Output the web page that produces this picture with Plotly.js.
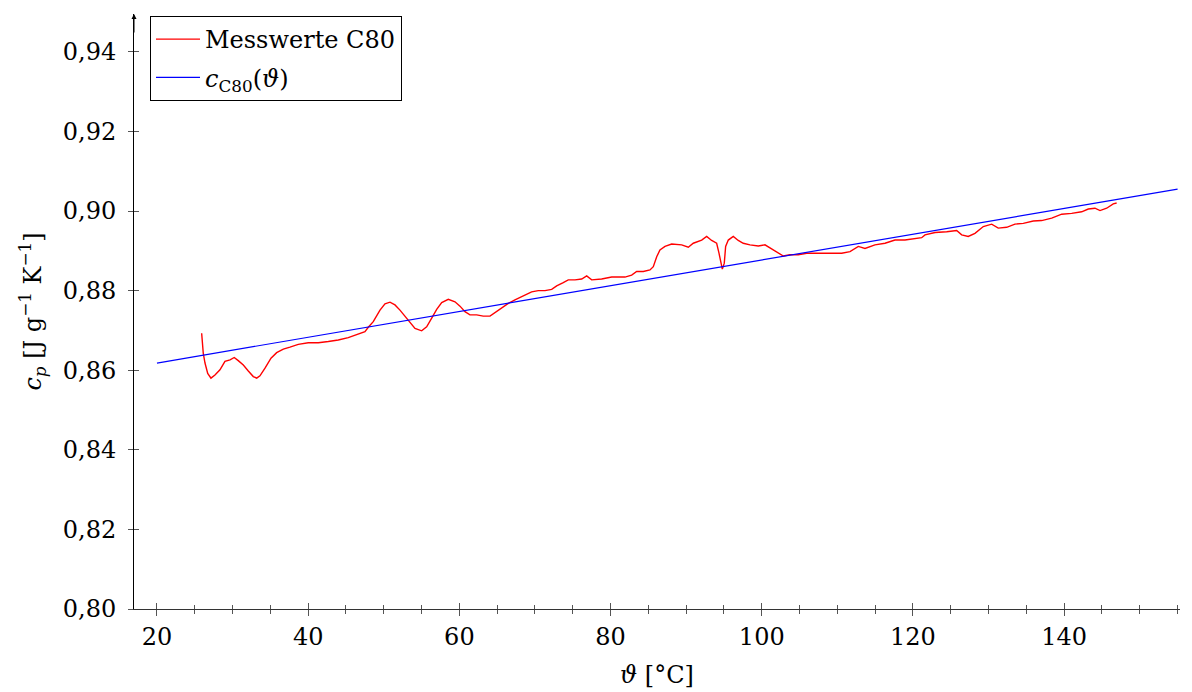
<!DOCTYPE html>
<html>
<head>
<meta charset="utf-8">
<script src="https://cdn.plot.ly/plotly-3.0.1.min.js"></script>
<style>
  html, body { margin: 0; padding: 0; background: #fff; }
  #chart { width: 1192px; height: 692px; }
</style>
</head>
<body>
<div id="chart"></div>
<script>
// Measured specific heat of the C80 sample, temperature in °C
const tempC80 = [
  25.91, 26.12, 26.35, 26.71, 27.14, 27.67, 28.33, 28.99, 29.66, 30.22,
  30.75, 31.42, 32.08, 32.74, 33.19, 33.62, 34.29, 35.08, 35.83, 36.71,
  37.59, 38.69, 40.01, 41.34, 42.66, 43.98, 45.30, 46.63, 47.51, 47.95,
  48.61, 49.50, 50.16, 50.82, 51.48, 52.14, 52.80, 53.47, 54.13, 55.01,
  55.67, 56.34, 57.00, 57.66, 58.53, 59.42, 60.08, 60.74, 61.40, 62.29,
  63.16, 64.05, 64.71, 65.60, 66.47, 67.35, 68.45, 69.56, 70.44, 71.32,
  72.21, 72.87, 73.74, 74.40, 75.29, 76.18, 76.84, 77.50, 78.82, 80.15,
  81.02, 81.90, 82.79, 83.45, 84.33, 85.21, 85.65, 86.10, 86.53, 87.20,
  88.08, 89.40, 90.28, 90.94, 92.05, 92.71, 93.37, 94.03, 94.34, 94.56,
  94.78, 95.04, 95.22, 95.57, 96.23, 96.89, 97.55, 98.44, 99.54, 100.42,
  101.31, 102.18, 102.85, 103.73, 104.83, 105.94, 107.04, 108.14, 109.25, 110.57,
  111.67, 112.77, 113.65, 114.97, 116.30, 117.62, 118.94, 120.26, 121.15, 121.59,
  122.92, 124.46, 125.78, 126.44, 127.31, 128.20, 129.30, 130.41, 131.28, 132.39,
  133.49, 134.59, 135.91, 137.02, 138.35, 139.67, 140.99, 142.31, 143.19, 144.07,
  144.74, 145.62, 146.49, 146.94
];
const cpC80 = [
  0.8693, 0.8643, 0.8618, 0.8592, 0.8580, 0.8588, 0.8601, 0.8622, 0.8626, 0.8632,
  0.8624, 0.8613, 0.8598, 0.8584, 0.8580, 0.8586, 0.8605, 0.8630, 0.8644, 0.8653,
  0.8658, 0.8665, 0.8669, 0.8669, 0.8672, 0.8676, 0.8682, 0.8690, 0.8697, 0.8708,
  0.8722, 0.8751, 0.8767, 0.8771, 0.8764, 0.8751, 0.8736, 0.8718, 0.8705, 0.8699,
  0.8709, 0.8731, 0.8753, 0.8770, 0.8778, 0.8772, 0.8761, 0.8747, 0.8739, 0.8739,
  0.8736, 0.8736, 0.8745, 0.8757, 0.8768, 0.8777, 0.8787, 0.8797, 0.8800, 0.8800,
  0.8803, 0.8812, 0.8820, 0.8827, 0.8827, 0.8829, 0.8837, 0.8827, 0.8829, 0.8834,
  0.8834, 0.8834, 0.8839, 0.8848, 0.8848, 0.8852, 0.8860, 0.8885, 0.8902, 0.8911,
  0.8917, 0.8915, 0.8909, 0.8919, 0.8927, 0.8936, 0.8926, 0.8919, 0.8894, 0.8869,
  0.8854, 0.8869, 0.8911, 0.8927, 0.8936, 0.8926, 0.8919, 0.8915, 0.8912, 0.8915,
  0.8904, 0.8895, 0.8887, 0.8890, 0.8890, 0.8894, 0.8894, 0.8895, 0.8895, 0.8894,
  0.8898, 0.8911, 0.8906, 0.8915, 0.8919, 0.8927, 0.8927, 0.8930, 0.8933, 0.8940,
  0.8946, 0.8948, 0.8951, 0.8940, 0.8936, 0.8944, 0.8961, 0.8967, 0.8957, 0.8959,
  0.8967, 0.8969, 0.8975, 0.8976, 0.8982, 0.8992, 0.8994, 0.8998, 0.9005, 0.9007,
  0.9001, 0.9007, 0.9018, 0.9020
];

// Fitted model c_C80(theta)
const fitT = [20, 155];
const fitCp = [0.8618, 0.9055];

const xTicks = [20, 40, 60, 80, 100, 120, 140];
const yTicks = [0.80, 0.82, 0.84, 0.86, 0.88, 0.90, 0.92, 0.94];
const yTickText = ['0,80', '0,82', '0,84', '0,86', '0,88', '0,90', '0,92', '0,94'];

const FONT = 'DejaVu Serif';
const FS = 24;
const xRange = [16.96, 155.32];
const yRange = [0.80, 0.9495];

const traces = [
  {
    x: tempC80, y: cpC80, type: 'scatter', mode: 'lines',
    name: 'Messwerte C80', legendgroup: 'meas',
    line: { color: '#ff0000', width: 1.4 }
  },
  {
    x: fitT, y: fitCp, type: 'scatter', mode: 'lines',
    name: '<i>c</i><sub>C80</sub>(<i>ϑ</i>)', legendgroup: 'fit',
    line: { color: '#0000ff', width: 1.2 }
  }
];

const tickGray = '#555';

const layout = {
  width: 1192, height: 692,
  margin: { l: 134, r: 12, t: 14, b: 83 },
  paper_bgcolor: '#fff', plot_bgcolor: '#fff',
  font: { family: FONT, size: FS, color: '#000' },
  showlegend: true,
  legend: {
    x: 0.0153, y: 0.9966, xanchor: 'left', yanchor: 'top',
    bordercolor: '#000', borderwidth: 1, bgcolor: '#fff',
    font: { family: FONT, size: FS },
    tracegroupgap: 4, itemwidth: 44
  },
  xaxis: {
    range: xRange, showgrid: false, zeroline: false,
    showline: true, linecolor: '#333', linewidth: 1.2,
    tickmode: 'array', tickvals: xTicks,
    ticks: 'outside', ticklen: 6, tickcolor: tickGray, tickwidth: 1,
    minor: { dtick: 5, tick0: 0, ticks: 'outside', ticklen: 4, tickcolor: tickGray, tickwidth: 1, showgrid: false },
    tickfont: { family: FONT, size: FS },
    title: { text: '<i>ϑ</i> [°C]', font: { family: FONT, size: FS }, standoff: 16 }
  },
  yaxis: {
    range: yRange, showgrid: false, zeroline: false,
    showline: true, linecolor: '#000', linewidth: 1,
    tickmode: 'array', tickvals: yTicks, ticktext: yTickText,
    ticks: 'inside', ticklen: 5, tickcolor: tickGray, tickwidth: 1,
    ticklabelstandoff: 12,
    tickfont: { family: FONT, size: FS },
    title: { text: '<i>c</i><sub><i>p</i></sub> [J g<sup>−1</sup> K<sup>−1</sup>]', font: { family: FONT, size: FS }, standoff: 14 }
  },
  // the other halves of the ticks so they cross the axis lines
  xaxis2: {
    overlaying: 'x', anchor: 'y', matches: 'x', range: xRange,
    showgrid: false, zeroline: false, showline: false, showticklabels: false,
    tickmode: 'array', tickvals: xTicks,
    ticks: 'inside', ticklen: 6, tickcolor: tickGray, tickwidth: 1,
    minor: { dtick: 5, tick0: 0, ticks: 'inside', ticklen: 4, tickcolor: tickGray, tickwidth: 1, showgrid: false }
  },
  yaxis2: {
    overlaying: 'y', anchor: 'x', matches: 'y', range: yRange,
    showgrid: false, zeroline: false, showline: false, showticklabels: false,
    tickmode: 'array', tickvals: yTicks,
    ticks: 'outside', ticklen: 5, tickcolor: tickGray, tickwidth: 1
  },
  annotations: [
    {
      // arrow head at the top of the ordinate
      xref: 'paper', yref: 'paper', x: 0, y: 1,
      text: '', showarrow: true, arrowhead: 2, arrowsize: 1, arrowwidth: 1,
      arrowcolor: '#000', ax: 0, ay: 20
    }
  ]
};

// Empty companion trace so the overlay axes are laid out
traces.push({ x: [], y: [], xaxis: 'x2', yaxis: 'y2', showlegend: false, hoverinfo: 'skip', type: 'scatter', mode: 'lines' });

Plotly.newPlot('chart', traces, layout, { staticPlot: true, displayModeBar: false });
</script>
</body>
</html>
